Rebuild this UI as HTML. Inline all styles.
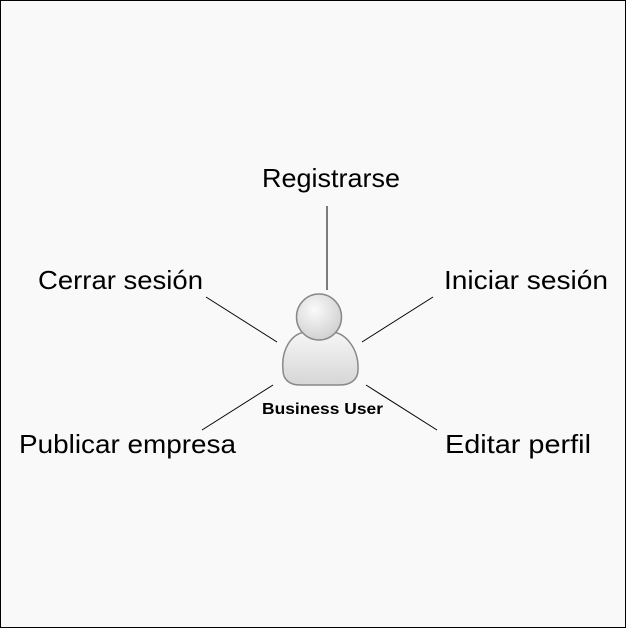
<!DOCTYPE html>
<html><head><style>html,body{margin:0;padding:0;background:#fff}</style></head>
<body>
<svg width="626" height="628" xmlns="http://www.w3.org/2000/svg" style="display:block">
<defs>
<radialGradient id="hg" cx="0.4" cy="0.35" r="0.7"><stop offset="0" stop-color="#fafafa"/><stop offset="1" stop-color="#cfcfcf"/></radialGradient>
<linearGradient id="bg" x1="0" y1="0" x2="0" y2="1"><stop offset="0" stop-color="#f6f6f6"/><stop offset="1" stop-color="#d6d6d6"/></linearGradient>
</defs>
<rect x="0.5" y="0.5" width="625" height="627" fill="#f9f9f9" stroke="#000"/>
<g stroke="#000" stroke-width="1">
<line x1="327" y1="206" x2="327" y2="290"/>
<line x1="206" y1="297" x2="277" y2="342"/>
<line x1="433" y1="297" x2="362" y2="342"/>
<line x1="273" y1="385" x2="202" y2="430"/>
<line x1="366" y1="385" x2="437" y2="430"/>
</g>
<path d="M283,370 C281,350 291,334 305,332 L333,332 C347,334 359,350 358,370 C358,380 350,385 340,385 L300,385 C290,385 283,380 283,370 Z" fill="url(#bg)" stroke="#888" stroke-width="1.5"/>
<ellipse cx="319" cy="317" rx="22.5" ry="23" fill="url(#hg)" stroke="#888" stroke-width="1.5"/>
<g font-family="Liberation Sans, sans-serif" font-size="26" fill="#000">
<text x="262" y="187" textLength="138" lengthAdjust="spacingAndGlyphs">Registrarse</text>
<text x="38" y="289" textLength="165" lengthAdjust="spacingAndGlyphs">Cerrar sesión</text>
<text x="444" y="289" textLength="164" lengthAdjust="spacingAndGlyphs">Iniciar sesión</text>
<text x="19" y="453" textLength="217" lengthAdjust="spacingAndGlyphs">Publicar empresa</text>
<text x="445" y="453" textLength="146" lengthAdjust="spacingAndGlyphs">Editar perfil</text>
</g>
<text x="262" y="414" font-family="Liberation Sans, sans-serif" font-size="16" font-weight="bold" textLength="121" lengthAdjust="spacingAndGlyphs">Business User</text>
</svg>
</body></html>
